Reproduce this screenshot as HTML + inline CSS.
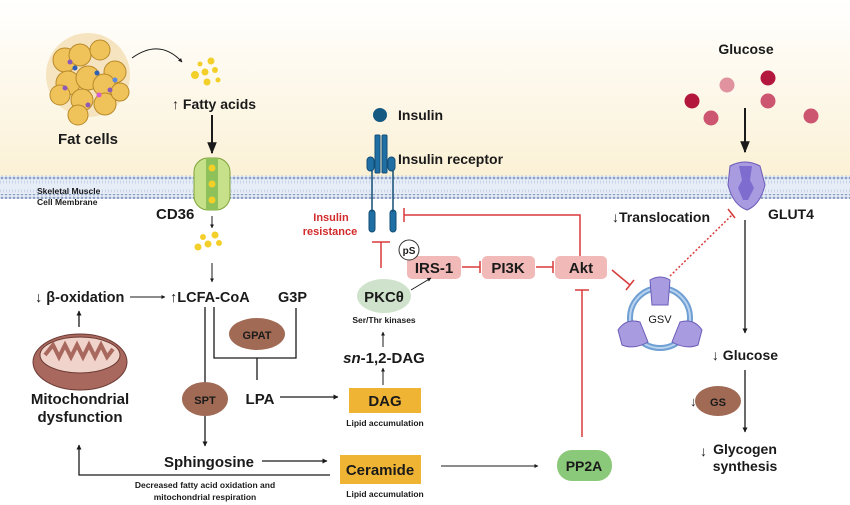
<!DOCTYPE html>
<html><head><meta charset="utf-8"><style>
html,body{margin:0;padding:0;background:#fff}
svg{display:block}
text{font-family:"Liberation Sans",sans-serif;font-weight:bold;fill:#1a1a1a}
</style></head><body>
<svg width="850" height="505" viewBox="0 0 850 505" xmlns="http://www.w3.org/2000/svg">
<defs>
<linearGradient id="bg" x1="0" y1="0" x2="0" y2="1">
<stop offset="0" stop-color="#ffffff"/><stop offset="1" stop-color="#fbf1d6"/></linearGradient>
<pattern id="dots" width="4" height="4" patternUnits="userSpaceOnUse"><circle cx="2" cy="2" r="1.4" fill="#8fa2c4"/></pattern>
<marker id="ar" viewBox="0 0 10 10" refX="9" refY="5" markerWidth="6" markerHeight="6" orient="auto"><path d="M0,1 L10,5 L0,9z" fill="#1a1a1a"/></marker>
<marker id="arb" viewBox="0 0 10 10" refX="9" refY="5" markerWidth="4" markerHeight="4" orient="auto"><path d="M0,0 L10,5 L0,10z" fill="#1a1a1a"/></marker>
</defs>
<rect x="0" y="0" width="850" height="176" fill="url(#bg)"/>
<rect x="0" y="176" width="850" height="22" fill="#e6edf7"/>
<rect x="0" y="175" width="850" height="5" fill="url(#dots)"/>
<rect x="0" y="194" width="850" height="5" fill="url(#dots)"/>
<line x1="0" y1="182" x2="850" y2="182" stroke="#c8d4e8" stroke-width="3" stroke-dasharray="1 2"/>
<line x1="0" y1="191" x2="850" y2="191" stroke="#c8d4e8" stroke-width="3" stroke-dasharray="1 2"/>

<!-- fat cells -->
<g stroke="#b98a2a" stroke-width="1" fill="#f0c35a">
<circle cx="88" cy="75" r="42" fill="#f5e4bf" stroke="none"/>
<circle cx="65" cy="60" r="12"/><circle cx="80" cy="55" r="11"/><circle cx="100" cy="50" r="10"/><circle cx="115" cy="72" r="11"/>
<circle cx="68" cy="83" r="12"/><circle cx="88" cy="78" r="12"/><circle cx="104" cy="85" r="11"/><circle cx="60" cy="95" r="10"/>
<circle cx="82" cy="100" r="11"/><circle cx="105" cy="104" r="11"/><circle cx="120" cy="92" r="9"/><circle cx="78" cy="115" r="10"/>
</g>
<g><circle cx="75" cy="68" r="2.5" fill="#2f5fb5"/><circle cx="97" cy="73" r="2.5" fill="#2f5fb5"/><circle cx="70" cy="62" r="2.5" fill="#8d5ab5"/><circle cx="110" cy="90" r="2.5" fill="#8d5ab5"/><circle cx="65" cy="88" r="2.5" fill="#8d5ab5"/><circle cx="88" cy="105" r="2.5" fill="#8d5ab5"/><circle cx="115" cy="80" r="2.5" fill="#5a8be0"/><circle cx="99" cy="95" r="2.5" fill="#d45bd0"/></g>
<text x="88" y="144" font-size="15" text-anchor="middle">Fat cells</text>
<path d="M132,58 Q160,38 182,62" fill="none" stroke="#1a1a1a" stroke-width="1" marker-end="url(#arb)"/>
<g fill="#f3cf2a"><circle cx="200" cy="64" r="2.5"/><circle cx="211" cy="61" r="3.5"/><circle cx="205" cy="72" r="3.5"/><circle cx="215" cy="70" r="3"/><circle cx="195" cy="75" r="4"/><circle cx="207" cy="82" r="3.5"/><circle cx="218" cy="80" r="2.5"/></g>
<text x="172" y="109" font-size="14">↑ Fatty acids</text>
<line x1="212" y1="115" x2="212" y2="153" stroke="#1a1a1a" stroke-width="2" marker-end="url(#ar)"/>
<!-- CD36 -->
<rect x="194" y="158" width="36" height="52" rx="14" fill="#c7e08a" stroke="#7ea43a"/>
<rect x="206" y="158" width="12" height="52" fill="#8fc15a"/>
<g fill="#f3cf2a"><circle cx="212" cy="168" r="3.5"/><circle cx="212" cy="184" r="3.5"/><circle cx="212" cy="200" r="3.5"/></g>
<text x="37" y="194" font-size="8.5">Skeletal Muscle</text>
<text x="37" y="205" font-size="8.5">Cell Membrane</text>
<text x="156" y="219" font-size="15">CD36</text>
<line x1="212" y1="216" x2="212" y2="228" stroke="#1a1a1a" marker-end="url(#arb)"/>
<g fill="#f3cf2a"><circle cx="203" cy="237" r="3"/><circle cx="215" cy="235" r="3.5"/><circle cx="208" cy="244" r="3.5"/><circle cx="219" cy="243" r="3"/><circle cx="198" cy="247" r="3.5"/></g>

<!-- insulin -->
<circle cx="380" cy="115" r="7" fill="#155a80"/>
<text x="398" y="120" font-size="14">Insulin</text>
<g fill="#1f6fa5" stroke="#144e75">
<rect x="375" y="135" width="5" height="38" rx="1"/><rect x="382" y="135" width="5" height="38" rx="1"/>
<rect x="367" y="157" width="7" height="14" rx="3.5"/><rect x="388" y="157" width="7" height="14" rx="3.5"/>
<rect x="369" y="210" width="6" height="22" rx="3"/><rect x="390" y="210" width="6" height="22" rx="3"/>
</g>
<line x1="372" y1="170" x2="372" y2="212" stroke="#144e75" stroke-width="1.5"/>
<line x1="393" y1="170" x2="393" y2="212" stroke="#144e75" stroke-width="1.5"/>
<text x="398" y="164" font-size="14">Insulin receptor</text>
<text x="331" y="221" font-size="11" text-anchor="middle" style="fill:#d12a2a">Insulin</text>
<text x="330" y="235" font-size="11" text-anchor="middle" style="fill:#d12a2a">resistance</text>

<g stroke="#d83a3a" stroke-width="1.5" fill="none">
<polyline points="580,257 580,215 404,215"/><line x1="404" y1="208" x2="404" y2="222"/>
<line x1="381" y1="268" x2="381" y2="242"/><line x1="372" y1="242" x2="390" y2="242"/>
<line x1="462" y1="267" x2="480" y2="267"/><line x1="480" y1="261" x2="480" y2="273"/>
<line x1="536" y1="267" x2="553" y2="267"/><line x1="553" y1="261" x2="553" y2="273"/>
<line x1="582" y1="437" x2="582" y2="290"/><line x1="575" y1="290" x2="589" y2="290"/>
<line x1="612" y1="270" x2="630" y2="285"/><line x1="626" y1="290" x2="634" y2="280"/>
<line x1="670" y1="276" x2="733" y2="214" stroke-dasharray="2 2"/><line x1="728" y1="209" x2="735" y2="218"/>
</g>
<rect x="407" y="256" width="54" height="23" rx="5" fill="#f1b9b7"/>
<text x="434" y="273" font-size="15" text-anchor="middle">IRS-1</text>
<circle cx="409" cy="250" r="10" fill="#fff" stroke="#333"/>
<text x="409" y="254" font-size="10" text-anchor="middle">pS</text>
<rect x="482" y="256" width="53" height="23" rx="5" fill="#f1b9b7"/>
<text x="508" y="273" font-size="15" text-anchor="middle">PI3K</text>
<rect x="555" y="256" width="52" height="23" rx="5" fill="#f1b9b7"/>
<text x="581" y="273" font-size="15" text-anchor="middle">Akt</text>
<ellipse cx="384" cy="296" rx="27" ry="17" fill="#cfe3cc"/>
<text x="384" y="302" font-size="15" text-anchor="middle">PKCθ</text>
<line x1="411" y1="290" x2="431" y2="278" stroke="#1a1a1a" marker-end="url(#arb)"/>
<text x="384" y="323" font-size="8.5" text-anchor="middle">Ser/Thr kinases</text>
<line x1="383" y1="347" x2="383" y2="332" stroke="#1a1a1a" marker-end="url(#arb)"/>
<text x="384" y="363" font-size="15" text-anchor="middle"><tspan font-style="italic">sn</tspan>-1,2-DAG</text>
<line x1="383" y1="385" x2="383" y2="368" stroke="#1a1a1a" marker-end="url(#arb)"/>
<rect x="349" y="388" width="72" height="25" fill="#f0b434"/>
<text x="385" y="406" font-size="15" text-anchor="middle">DAG</text>
<text x="385" y="426" font-size="8.5" text-anchor="middle">Lipid accumulation</text>
<rect x="340" y="455" width="81" height="29" fill="#f0b434"/>
<text x="380" y="475" font-size="15" text-anchor="middle">Ceramide</text>
<text x="385" y="497" font-size="8.5" text-anchor="middle">Lipid accumulation</text>
<line x1="441" y1="466" x2="538" y2="466" stroke="#1a1a1a" marker-end="url(#arb)"/>
<rect x="557" y="450" width="55" height="31" rx="15" fill="#8bc97a"/>
<text x="584" y="471" font-size="14" text-anchor="middle">PP2A</text>

<!-- left pathway -->
<text x="35" y="302" font-size="14.5">↓ β-oxidation</text>
<line x1="130" y1="297" x2="165" y2="297" stroke="#1a1a1a" marker-end="url(#arb)"/>
<text x="170" y="302" font-size="14.5">↑LCFA-CoA</text>
<text x="278" y="302" font-size="14.5">G3P</text>
<line x1="212" y1="263" x2="212" y2="282" stroke="#1a1a1a" marker-end="url(#arb)"/>
<g stroke="#1a1a1a" stroke-width="1.3" fill="none">
<polyline points="214,307 214,358 296,358 296,308"/>
<line x1="257" y1="358" x2="257" y2="380"/>
<line x1="205" y1="307" x2="205" y2="446" marker-end="url(#arb)"/>
<line x1="280" y1="397" x2="338" y2="397" marker-end="url(#arb)"/>
<line x1="262" y1="461" x2="327" y2="461" marker-end="url(#arb)"/>
<polyline points="330,475 79,475 79,445" marker-end="url(#arb)"/>
<line x1="79" y1="327" x2="79" y2="311" marker-end="url(#arb)"/>
</g>
<ellipse cx="257" cy="334" rx="28" ry="16" fill="#a06a55"/>
<text x="257" y="339" font-size="11" text-anchor="middle">GPAT</text>
<ellipse cx="205" cy="399" rx="23" ry="17" fill="#a06a55"/>
<text x="205" y="404" font-size="11" text-anchor="middle">SPT</text>
<text x="260" y="404" font-size="15" text-anchor="middle">LPA</text>
<text x="209" y="467" font-size="15" text-anchor="middle">Sphingosine</text>
<text x="205" y="488" font-size="8.5" text-anchor="middle">Decreased fatty acid oxidation and</text>
<text x="205" y="500" font-size="8.5" text-anchor="middle">mitochondrial respiration</text>
<!-- mitochondria -->
<ellipse cx="80" cy="362" rx="47" ry="28" fill="#a9685e" stroke="#6b3a33"/>
<ellipse cx="80" cy="355" rx="40" ry="18" fill="#f0d4cc" stroke="#6b3a33"/>
<path d="M45,355 l8,-10 l6,12 l6,-12 l6,12 l6,-12 l6,12 l6,-12 l6,12 l6,-12 l6,12 l6,-8" fill="none" stroke="#a9685e" stroke-width="4"/>
<text x="80" y="404" font-size="15" text-anchor="middle">Mitochondrial</text>
<text x="80" y="422" font-size="15" text-anchor="middle">dysfunction</text>

<!-- glucose side -->
<text x="746" y="54" font-size="14" text-anchor="middle">Glucose</text>
<g><circle cx="692" cy="101" r="7.5" fill="#b3173c"/><circle cx="711" cy="118" r="7.5" fill="#cc5570"/><circle cx="727" cy="85" r="7.5" fill="#e1929f"/><circle cx="768" cy="78" r="7.5" fill="#b3173c"/><circle cx="768" cy="101" r="7.5" fill="#cc5570"/><circle cx="811" cy="116" r="7.5" fill="#cc5570"/></g>
<line x1="745" y1="108" x2="745" y2="152" stroke="#1a1a1a" stroke-width="2" marker-end="url(#ar)"/>
<path d="M730,166 Q745,158 760,166 L765,185 Q760,205 747,210 Q733,205 728,185z" fill="#a99be0" stroke="#6c5cb8"/>
<path d="M739,166 L752,166 L750,180 L754,188 L748,200 L743,200 L738,188 L742,180z" fill="#7f6ccf"/>
<text x="768" y="219" font-size="14">GLUT4</text>
<text x="612" y="222" font-size="14">↓Translocation</text>
<circle cx="660" cy="318" r="30" fill="none" stroke="#6f9fd3" stroke-width="6"/>
<circle cx="660" cy="318" r="30" fill="none" stroke="#b9d3ef" stroke-width="2"/>
<text x="660" y="323" font-size="11" text-anchor="middle" style="font-weight:normal">GSV</text>
<g fill="#a99be0" stroke="#6c5cb8">
<path d="M650,280 Q660,274 670,280 L668,305 L652,305z"/>
<path d="M618,330 Q626,318 640,322 L648,342 Q634,350 622,345z"/>
<path d="M680,322 Q694,318 702,330 L698,345 Q686,350 672,342z"/>
</g>
<line x1="745" y1="220" x2="745" y2="333" stroke="#1a1a1a" stroke-width="1.3" marker-end="url(#arb)"/>
<text x="745" y="360" font-size="14" text-anchor="middle">↓ Glucose</text>
<line x1="745" y1="370" x2="745" y2="432" stroke="#1a1a1a" stroke-width="1.3" marker-end="url(#arb)"/>
<ellipse cx="718" cy="401" rx="23" ry="15" fill="#a06a55"/>
<text x="718" y="406" font-size="11" text-anchor="middle">GS</text>
<text x="690" y="406" font-size="13">↓</text>
<text x="700" y="456" font-size="14">↓</text>
<text x="745" y="454" font-size="14" text-anchor="middle">Glycogen</text>
<text x="745" y="471" font-size="14" text-anchor="middle">synthesis</text>
</svg>
</body></html>
